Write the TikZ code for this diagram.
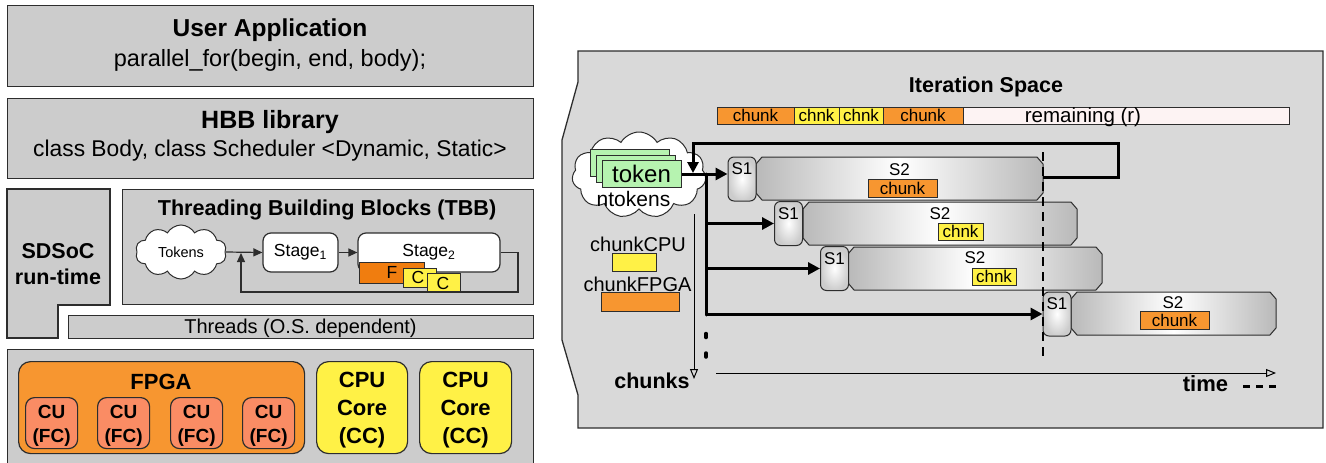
\documentclass[tikz,border=0pt]{standalone}
\usepackage{fontspec}
\setmainfont{Liberation Sans}
\usetikzlibrary{shapes.symbols,arrows.meta,calc}
\definecolor{boxgray}{RGB}{204,204,204}
\definecolor{panelgray}{RGB}{217,217,217}
\definecolor{edge}{RGB}{45,45,45}
\definecolor{orng}{RGB}{247,150,48}
\definecolor{dorng}{RGB}{240,125,15}
\definecolor{ylw}{RGB}{255,241,70}
\definecolor{salmon}{RGB}{250,140,100}
\definecolor{tokgreen}{RGB}{182,243,176}
\definecolor{pinkw}{RGB}{253,243,243}
\definecolor{shgray}{RGB}{185,185,185}
\newcommand{\fsz}[1]{\fontsize{#1}{#1}\selectfont}
\newcommand{\stwobox}[5]{%
  \path[draw=edge, line width=1pt, left color=shgray, right color=shgray, middle color=white]
    (#2+6,#3) -- (#4-6,#3) -- (#4,#3+7) -- (#4,#5-7) -- (#4-6,#5) -- (#2+6,#5) -- (#2,#5-7) -- (#2,#3+7) -- cycle;
  \coordinate (#1) at ({(#2+#4)/2},{(#3+#5)/2});}
\begin{document}
\begin{tikzpicture}[x=1pt,y=-1pt,
  sz/.style 2 args={minimum width=#1pt, minimum height=#2pt},
  lay/.style={draw=edge, line width=1.3pt, fill=boxgray, anchor=north west, inner sep=0pt},
  layp/.style={draw=edge, line width=1.3pt, fill=boxgray},
  rbox/.style={draw=edge, line width=1.2pt, rounded corners=#1, anchor=north west, inner sep=0pt},
  txt/.style={anchor=base, inner sep=0pt},
  stage/.style={draw=edge, fill=white, rounded corners=8pt, line width=1.2pt, font=\fsz{17.5}, inner sep=0pt},
  small/.style={draw=edge, line width=1pt, anchor=north west, inner sep=0pt},
  tarrow/.style={draw=edge, line width=1.2pt, -{Triangle[length=9pt,width=8pt]}},
  seg/.style={draw=edge, line width=1pt, inner sep=0pt, minimum height=17pt, font=\fsz{17}},
  card/.style={draw=edge, fill=tokgreen, line width=1pt, minimum width=79pt, minimum height=27pt, inner sep=0pt},
  sone/.style={draw=edge, line width=1pt, rounded corners=6pt, inner color=white, outer color=black!20,
    minimum width=28pt, minimum height=44pt, inner sep=0pt,
    label={[font=\fsz{17}, anchor=north, inner sep=0pt, yshift=-6pt]north:S1}},
  chk/.style={draw=edge, line width=1pt, inner sep=0pt, minimum height=17pt, font=\fsz{17}},
  karrow/.style={line width=3pt, -{Triangle[length=12pt,width=12pt]}},
  thinax/.style={line width=1pt, -{Triangle[open, length=10pt, width=8pt]}}
]
\useasboundingbox (0,0) rectangle (1326,463);
% ---------------- left stack ----------------
\node[lay, sz={526}{81}] (ua) at (7,5) {};
\node[txt, font=\bfseries\fsz{24.5}] (uaT) at (270,36) {User Application};
\node[txt, font=\fsz{23.5}] (uaS) at (270,66) {parallel\_for(begin, end, body);};
\node[lay, sz={526}{80}] (hbb) at (7,98) {};
\node[txt, font=\bfseries\fsz{25}] (hbbT) at (270,128) {HBB library};
\node[txt, font=\fsz{22.8}] (hbbS) at (270,156) {class Body, class Scheduler <Dynamic, Static>};
\path[layp] (7,189) -- (110,189) -- (110,305) -- (58,305) -- (58,338) -- (7,338) -- cycle;
\node[txt, font=\bfseries\fsz{21.5}] (sdsA) at (58,258) {SDSoC};
\node[txt, font=\bfseries\fsz{21.5}] (sdsB) at (58,284) {run-time};
\node[lay, sz={411}{115}] (tbb) at (122,189) {};
\node[txt, font=\bfseries\fsz{21.6}] (tbbT) at (327,215) {Threading Building Blocks (TBB)};
\node[cloud, cloud puffs=10, cloud puff arc=120, cloud ignores aspect, draw=edge, fill=white, line width=1pt,
  minimum width=91pt, minimum height=54pt, inner sep=0pt, font=\fsz{14.5}] (tok) at (181,252) {Tokens};
\node[stage, minimum width=75pt, minimum height=39pt] (st1) at (300.5,252.5) {Stage\textsubscript{1}};
\node[stage, minimum width=142pt, minimum height=39pt] (st2) at (429,252.5) {Stage\textsubscript{2}};
\node[small, fill=dorng, sz={65}{21}] (fb) at (359,262) {};
\node[font=\fsz{17.5}, inner sep=0pt] (fbT) at (392,272) {F};
\node[small, fill=ylw, sz={33}{19}] (cb1) at (403,268) {};
\node[font=\fsz{17.5}, inner sep=0pt] (cb1T) at (418,277) {C};
\node[small, fill=ylw, sz={33}{19}] (cb2) at (427,273) {};
\node[font=\fsz{17.5}, inner sep=0pt] (cb2T) at (443,283) {C};
\draw[tarrow] (tok.east) -- (st1.west);
\draw[tarrow] (st1.east) -- (st2.west);
\coordinate (fbR) at (518,292);
\coordinate (fbL) at (241,292);
\coordinate (fbU) at (241,253);
\draw[tarrow] (st2.east) -| (fbR) -- (fbL) -- (fbU);
\node[lay, sz={465}{23}] (thr) at (68,315) {};
\node[txt, font=\fsz{20}] (thrT) at (300.5,333) {Threads (O.S. dependent)};
\node[lay, sz={526}{125}] (hw) at (7,349) {};
\node[rbox=12pt, fill=orng, sz={286}{92}] (fpga) at (18,361) {};
\node[txt, font=\bfseries\fsz{22}] (fpgaT) at (161,389) {FPGA};
\foreach \i/\x in {1/25,2/97,3/170,4/242}{
  \node[rbox=9pt, fill=salmon, sz={52}{51}] (cu\i) at (\x,397) {};
  \node[txt, font=\bfseries\fsz{19}] (cuA\i) at ($(cu\i.north)+(0,21)$) {CU};
  \node[txt, font=\bfseries\fsz{19}] (cuB\i) at ($(cu\i.north)+(0,45)$) {(FC)};
}
\node[rbox=12pt, fill=ylw, sz={91}{92}] (cc1) at (316,361) {};
\node[rbox=12pt, fill=ylw, sz={92}{92}] (cc2) at (419,361) {};
\foreach \n in {1,2}{
  \node[txt, font=\bfseries\fsz{22}] (ccA\n) at ($(cc\n.north)+(0,26)$) {CPU};
  \node[txt, font=\bfseries\fsz{22}] (ccB\n) at ($(cc\n.north)+(0,54)$) {Core};
  \node[txt, font=\bfseries\fsz{22}] (ccC\n) at ($(cc\n.north)+(0,82)$) {(CC)};
}
% ---------------- right panel ----------------
\path[draw=edge, line width=1.3pt, fill=panelgray] (578,51) -- (1323,51) -- (1323,428) -- (578,428) -- (578,395) -- (562,340) -- (562,140) -- (578,82) -- cycle;
\node[txt, font=\bfseries\fsz{21.5}] (its) at (986,92) {Iteration Space};
\node[seg, fill=orng, minimum width=77pt] (k1) at (755.5,115.5) {chunk};
\node[seg, fill=ylw, minimum width=45pt] (k2) at (816.5,115.5) {chnk};
\node[seg, fill=ylw, minimum width=44pt] (k3) at (861,115.5) {chnk};
\node[seg, fill=orng, minimum width=80pt] (k4) at (923,115.5) {chunk};
\node[seg, fill=pinkw, minimum width=326pt] (rem) at (1126,115.5) {};
\node[txt, font=\fsz{20.5}] (remT) at (1083,122) {remaining (r)};
% token cloud
\node[cloud, cloud puffs=11, cloud puff arc=120, cloud ignores aspect, draw=edge, fill=white, line width=1pt,
  minimum width=134pt, minimum height=86pt, inner sep=0pt] (tcl) at (639,175) {};
\node[card] (tk3) at (629.5,163) {};
\node[card] (tk2) at (635.5,168.5) {};
\node[card, font=\fsz{24}] (tk1) at (641.5,174) {token};
\node[txt, font=\fsz{21}] (ntk) at (633.5,206) {ntokens};
% chunk legend
\node[txt, font=\fsz{20}] (lcpu) at (638,251) {chunkCPU};
\node[draw=edge, line width=1pt, fill=ylw, inner sep=0pt, sz={44}{18}] (lcpuR) at (634,262) {};
\node[txt, font=\fsz{20}] (lfpga) at (637.5,291) {chunkFPGA};
\node[draw=edge, line width=1pt, fill=orng, inner sep=0pt, sz={78}{19}] (lfpgaR) at (640,301.5) {};
% S2 stages
\stwobox{s2a}{756}{157}{1043}{200}
\stwobox{s2b}{803}{202}{1077}{245}
\stwobox{s2c}{848}{247}{1102}{290}
\stwobox{s2d}{1071}{292}{1276}{335}
\node[font=\fsz{17}, inner sep=0pt] (s2aT) at (899.5,169.5) {S2};
\node[chk, fill=orng, minimum width=69pt, minimum height=18pt] (s2aC) at (902.5,188) {chunk};
\node[font=\fsz{17}, inner sep=0pt] (s2bT) at (940,214) {S2};
\node[chk, fill=ylw, minimum width=45pt] (s2bC) at (960.5,231.5) {chnk};
\node[font=\fsz{17}, inner sep=0pt] (s2cT) at (975,258) {S2};
\node[chk, fill=ylw, minimum width=44pt] (s2cC) at (994,276.5) {chnk};
\node[font=\fsz{17}, inner sep=0pt] (s2dT) at (1173,303) {S2};
\node[chk, fill=orng, minimum width=69pt, minimum height=18pt] (s2dC) at (1174.5,320) {chunk};
% S1 stages
\node[sone] (s1a) at (742,179) {};
\node[sone] (s1b) at (788.5,223.5) {};
\node[sone] (s1c) at (834.5,268.5) {};
\node[sone] (s1d) at (1057,314) {};
% loop back
\coordinate (lpA) at (1043,177);
\coordinate (lpB) at (1118,177);
\coordinate (lpC) at (1118,143);
\coordinate (lpD) at (693,143);
\coordinate (lpE) at (693,173);
\draw[line width=3pt, line join=miter, -{Triangle[length=11pt,width=11pt]}] (lpA) -- (lpB) -- (lpC) -- (lpD) -- (lpE);
% token line and trunk
\draw[karrow] (tk1.east) -- (tk1.east -| s1a.west);
\coordinate (trT) at (706,174);
\coordinate (trB) at (706,315);
\draw[line width=3pt, line cap=round] (trT) -- (trB);
\draw[karrow] (trT |- s1b.west) -- (s1b.west);
\draw[karrow] (trT |- s1c.west) -- (s1c.west);
\draw[karrow] (trT |- s1d.west) -- (s1d.west);
\coordinate (dt1) at (706,335.5);
\coordinate (dt2) at (706,355);
\draw[line width=3.5pt, line cap=round] ($(dt1)+(0,-2)$) -- ($(dt1)+(0,2)$);
\draw[line width=3.5pt, line cap=round] ($(dt2)+(0,-2)$) -- ($(dt2)+(0,2)$);
% dashed time marker
\coordinate (dsT) at (1043,152);
\coordinate (dsB) at (1043,358);
\draw[line width=2.5pt, dash pattern=on 9pt off 6pt] (dsT) -- (dsB);
% axes
\coordinate (cax0) at (694,214);
\coordinate (cax1) at (694,379);
\draw[thinax] (cax0) -- (cax1);
\node[txt, font=\bfseries\fsz{21.5}] (chT) at (652,388) {chunks};
\coordinate (tax0) at (716,373);
\coordinate (tax1) at (1276,373);
\draw[thinax] (tax0) -- (tax1);
\node[txt, font=\bfseries\fsz{22}] (tmT) at (1205.5,391) {time};
\coordinate (tdA) at (1243,386);
\coordinate (tdB) at (1276,386);
\draw[line width=3pt, dash pattern=on 7pt off 6pt] (tdA) -- (tdB);
\end{tikzpicture}
\end{document}
